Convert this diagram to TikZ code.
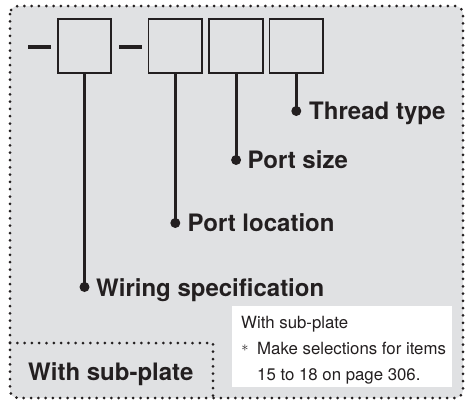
\documentclass[tikz,border=0pt]{standalone}
\usepackage{fontspec}
\setmainfont{TeX Gyre Heros}
\definecolor{ink}{RGB}{35,31,32}
\definecolor{bggray}{RGB}{224,225,227}
\tikzset{
  dotline/.style={draw=ink, line width=3pt, line cap=round, dash pattern=on 0pt off 7.3pt},
  slot/.style={draw=ink, fill=bggray, line width=1.8pt, minimum size=53.5pt, inner sep=0pt, outer sep=0pt},
  lead/.style={draw=ink, line width=2.8pt},
  blob/.style={circle, fill=ink, minimum size=10pt, inner sep=0pt},
  biglabel/.style={anchor=base west, inner sep=0pt, text=ink, font=\bfseries\fontsize{24}{28}\selectfont},
  notetext/.style={anchor=base west, inner sep=0pt, text=ink, font=\fontsize{16.8}{20}\selectfont},
}
\begin{document}
\begin{tikzpicture}[x=1pt,y=-1pt]
\useasboundingbox (0,0) rectangle (469,402);
\fill[white] (0,0) rectangle (469,402);
% background panel
\fill[bggray, rounded corners=8pt] (10,6) rectangle (463,398);
\draw[dotline, rounded corners=8pt] (10,6) rectangle (463,398);
% inner dotted corner box
\coordinate (ia) at (10,343);
\coordinate (ib) at (213,343);
\coordinate (ic) at (213,398);
\draw[dotline] (ia) -- (ib) -- (ic);
% dashes
\draw[ink, line width=3.8pt] (28,46.7) -- (51,46.7);
\draw[ink, line width=3.8pt] (119,46.7) -- (142,46.7);
% slots
\node[slot] (b1) at (84.5,46) {};
\node[slot] (b2) at (175.3,46) {};
\node[slot] (b3) at (236.1,46) {};
\node[slot] (b4) at (296.3,46) {};
% dots
\node[blob] (d1) at (84.5,287) {};
\node[blob] (d2) at (175.3,223) {};
\node[blob] (d3) at (236.1,160) {};
\node[blob] (d4) at (296.3,111) {};
% leads
\draw[lead] (b1.south) -- (d1.center);
\draw[lead] (b2.south) -- (d2.center);
\draw[lead] (b3.south) -- (d3.center);
\draw[lead] (b4.south) -- (d4.center);
% labels
\node[biglabel] (l4) at (309,119.5) {Thread type};
\node[biglabel] (l3) at (247.5,168.5) {Port size};
\node[biglabel] (l2) at (187.5,231.5) {Port location};
\node[biglabel] (l1) at (96,296.5) {Wiring specification};
\node[biglabel] (sp) at (28,380) {With sub-plate};
% note box
\fill[white] (232,306) rectangle (452,387);
\node[notetext] (n1) at (241,328) {With sub-plate};
\node[anchor=center, inner sep=0pt, text=ink, font=\fontsize{14}{14}\selectfont] (ast) at (245,348) {$\ast$};
\node[notetext] (n2) at (257,354) {Make selections for items};
\node[notetext] (n3) at (257,380) {15 to 18 on page 306.};
\end{tikzpicture}
\end{document}
